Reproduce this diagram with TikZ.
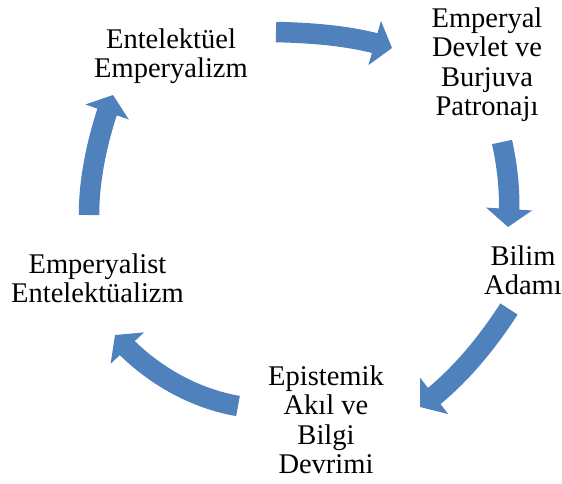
\documentclass[tikz,border=0pt]{standalone}
\usepackage{fontspec}
\setmainfont{Liberation Serif}
\usetikzlibrary{arrows.meta,bending}
\definecolor{arrowblue}{RGB}{79,129,189}
\begin{document}
\begin{tikzpicture}[x=1pt,y=-1pt,
  lbl/.style={align=center,inner sep=0pt,anchor=north,font=\fontsize{28.5}{29.5}\selectfont},
  cyc/.style={draw=arrowblue,line width=20.5pt,-{Triangle[width=45pt,length=18pt]}}]
\useasboundingbox (0,0) rectangle (562,484);
\node[lbl] (n1) at (487,7.2) {Emperyal\\Devlet ve\\Burjuva\\Patronajı};
\node[lbl] (n2) at (523,245.5) {Bilim\\Adamı};
\node[lbl] (n3) at (326,365.5) {Epistemik\\Akıl ve\\Bilgi\\Devrimi};
\node[lbl] (n4) at (97.5,253.5) {Emperyalist\\Entelektüalizm};
\node[lbl] (n5) at (171,28.5) {Entelektüel\\Emperyalizm};
\coordinate (a1s) at (276,32);  \coordinate (a1e) at (392,48);
\coordinate (a2s) at (502,142); \coordinate (a2e) at (508,227);
\coordinate (a3s) at (509,309); \coordinate (a3e) at (420,407);
\coordinate (a4s) at (238,406); \coordinate (a4e) at (115,335);
\coordinate (a5s) at (89,215);  \coordinate (a5e) at (113,95);
\draw[cyc] (a1s) .. controls (315,33) and (355,36) .. (a1e);
\draw[cyc] (a2s) .. controls (508,169) and (511,199) .. (a2e);
\draw[cyc] (a3s) .. controls (485,346) and (456,381) .. (a3e);
\draw[cyc] (a4s) .. controls (191,398) and (146,371) .. (a4e);
\draw[cyc] (a5s) .. controls (89,175) and (99,133) .. (a5e);
\end{tikzpicture}
\end{document}
